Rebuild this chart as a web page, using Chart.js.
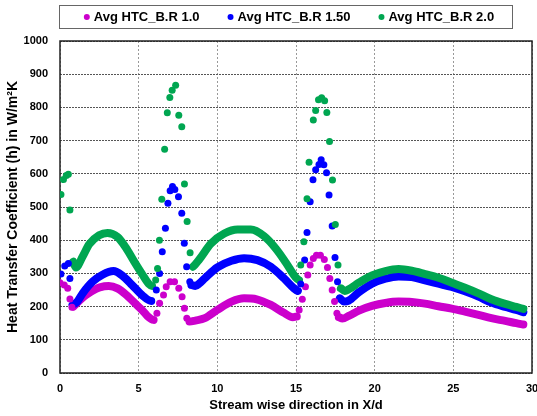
<!DOCTYPE html>
<html>
<head>
<meta charset="utf-8">
<script src="https://cdn.jsdelivr.net/npm/chart.js@4/dist/chart.umd.min.js"></script>
<style>
html,body{margin:0;padding:0;background:#fff;}
#wrap{width:537px;height:416px;}
</style>
</head>
<body>
<div id="wrap"><canvas id="c" width="537" height="416"></canvas></div>
<script>
// ---- data ----
const seriesNames = ['Avg HTC_B.R 1.0', 'Avg HTC_B.R 1.50', 'Avg HTC_B.R 2.0'];
const xTicks = [0, 5, 10, 15, 20, 25, 30];
const yTicks = [0, 100, 200, 300, 400, 500, 600, 700, 800, 900, 1000];
const xTitle = 'Stream wise direction in X/d';
const yTitle = 'Heat Transfer Coefficient (h) in W/m\u00B2K';

// B.R 1.0 (magenta)
const magentaDotX = [0, 0.27, 0.49, 0.63, 0.76, 6.16, 6.33, 6.58, 6.75, 7.0, 7.28, 7.55, 7.76, 7.91, 8.06, 15.2, 15.4, 15.6, 15.75, 15.9, 16.1, 16.3, 16.55, 16.8, 17.0, 17.15, 17.3, 17.45, 17.6];
const magentaDotY = [272, 265, 255, 223, 198, 180, 210, 235, 260, 275, 275, 255, 230, 195, 165, 190, 222, 260, 295, 325, 345, 355, 355, 342, 318, 285, 250, 215, 180];
const magentaBandX = [0.85, 1.27, 1.65, 2.28, 2.53, 3.1, 3.65, 4.22, 4.92, 5.27, 5.55, 5.95, 8.23, 8.6, 9.2, 10.0, 10.9, 11.7, 12.5, 13.4, 14.2, 14.8, 15.05, 17.72, 17.95, 18.35, 19.0, 19.83, 20.68, 21.52, 22.36, 23.2, 24.05, 24.9, 25.74, 26.6, 27.42, 28.3, 29.0, 29.45];
const magentaBandY = [200, 220, 235, 253, 258, 262, 255, 235, 203, 187, 172, 160, 155, 158, 165, 190, 215, 225, 222, 205, 182, 168, 170, 168, 164, 172, 188, 202, 211, 215, 214, 209, 201, 194, 185, 175, 165, 157, 150, 146];

// B.R 1.50 (blue)
const blueDotX = [0.06, 0.3, 0.53, 0.63, 6.12, 6.33, 6.5, 6.7, 6.86, 7.0, 7.15, 7.3, 7.53, 7.74, 7.9, 8.05, 8.25, 15.3, 15.55, 15.7, 15.9, 16.08, 16.25, 16.46, 16.6, 16.77, 16.94, 17.1, 17.3, 17.48, 17.64];
const blueDotY = [298, 322, 330, 285, 250, 300, 365, 436, 511, 549, 562, 553, 531, 481, 391, 320, 275, 268, 340, 423, 516, 582, 612, 628, 642, 627, 603, 536, 443, 348, 275];
const blueBandX = [0.8, 1.1, 1.44, 2.07, 2.7, 3.4, 3.97, 4.6, 5.23, 5.8, 8.35, 8.6, 8.86, 9.2, 10.0, 10.9, 11.7, 12.55, 13.4, 14.24, 14.87, 15.12, 17.78, 18.05, 18.35, 18.99, 19.83, 20.68, 21.52, 22.36, 23.2, 24.05, 24.9, 25.74, 26.6, 27.42, 28.3, 29.0, 29.45];
const blueBandY = [205, 215, 240, 275, 296, 307, 293, 264, 234, 217, 265, 262, 270, 285, 318, 338, 346, 340, 320, 285, 255, 247, 225, 215, 218, 243, 269, 284, 291, 289, 279, 269, 259, 246, 230, 212, 199, 190, 183];

// B.R 2.0 (green)
const greenDotX = [0.06, 0.22, 0.4, 0.53, 0.63, 6.08, 6.2, 6.32, 6.47, 6.65, 6.82, 6.98, 7.13, 7.35, 7.55, 7.74, 7.91, 8.08, 8.27, 15.3, 15.5, 15.7, 15.83, 16.1, 16.25, 16.43, 16.63, 16.82, 16.96, 17.13, 17.32, 17.5, 17.67];
const greenDotY = [538, 583, 595, 599, 491, 280, 315, 400, 523, 674, 784, 830, 852, 867, 776, 742, 569, 456, 362, 325, 395, 525, 635, 762, 791, 823, 829, 820, 785, 697, 581, 447, 325];
const greenBandX = [0.84, 1.01, 1.43, 1.86, 2.49, 3.02, 3.65, 4.18, 4.7, 5.23, 5.65, 5.85, 8.45, 8.85, 9.6, 10.44, 11.29, 12.13, 12.97, 13.71, 14.35, 14.98, 15.19, 17.85, 18.1, 18.35, 18.99, 19.83, 20.68, 21.52, 22.36, 23.2, 24.05, 24.9, 25.74, 26.6, 27.42, 28.3, 29.0, 29.45];
const greenBandY = [335, 318, 350, 388, 415, 422, 410, 378, 337, 297, 268, 262, 320, 342, 390, 420, 432, 432, 412, 375, 333, 288, 280, 255, 247, 252, 272, 294, 307, 313, 308, 298, 287, 272, 257, 240, 222, 208, 199, 193];

// ---- styling ----
const colors = ['#cc00cc', '#0000ff', '#00a651'];
const FONT = '"Liberation Sans", Arial, sans-serif';

const toPts = (xs, ys) => xs.map((x, i) => ({x: x, y: ys[i]}));

function bandDataset(xs, ys, color, order) {
  return {
    type: 'line', data: toPts(xs, ys), order: order,
    borderColor: color, backgroundColor: color, borderWidth: 8,
    borderCapStyle: 'round', borderJoinStyle: 'round',
    pointRadius: 0, pointHoverRadius: 0, fill: false,
    cubicInterpolationMode: 'monotone',
    segment: {
      borderColor: ctx => (ctx.p1.parsed.x - ctx.p0.parsed.x > 1.5 ? 'rgba(0,0,0,0)' : color)
    }
  };
}
function dotDataset(label, xs, ys, color, order) {
  return {
    type: 'scatter', label: label, data: toPts(xs, ys), order: order,
    backgroundColor: color, borderColor: color, borderWidth: 0,
    pointRadius: 3.5, pointHoverRadius: 3.5, showLine: false
  };
}

const frame = {
  id: 'frame',
  beforeDatasetsDraw(chart) {
    const {ctx, chartArea: a} = chart;
    ctx.save();
    ctx.strokeStyle = '#222';
    ctx.lineWidth = 1.5;
    ctx.strokeRect(a.left, a.top, a.right - a.left, a.bottom - a.top);
    ctx.restore();
  }
};

const legendBox = {
  id: 'legendBox',
  afterDraw(chart) {
    const ctx = chart.ctx;
    const a = chart.chartArea;
    ctx.save();
    ctx.strokeStyle = '#666';
    ctx.lineWidth = 1;
    ctx.strokeRect(a.left - 0.5, 5.5, 453, 23);
    ctx.font = 'bold 13px ' + FONT;
    ctx.textBaseline = 'middle';
    ctx.textAlign = 'left';
    const r = 3, g = 4, gap = 28;
    const widths = seriesNames.map(n => 2 * r + g + ctx.measureText(n).width);
    const total = widths.reduce((s, w) => s + w, 0) + gap * (widths.length - 1);
    let x = 289 - total / 2;
    const cy = 17;
    seriesNames.forEach((n, i) => {
      ctx.fillStyle = colors[i];
      ctx.beginPath();
      ctx.arc(x + r, cy, r, 0, Math.PI * 2);
      ctx.fill();
      ctx.fillStyle = '#000';
      ctx.fillText(n, x + 2 * r + g, cy);
      x += widths[i] + gap;
    });
    ctx.restore();
  }
};

new Chart(document.getElementById('c'), {
  data: {
    datasets: [
      bandDataset(magentaBandX, magentaBandY, colors[0], 6),
      bandDataset(blueBandX, blueBandY, colors[1], 5),
      bandDataset(greenBandX, greenBandY, colors[2], 4),
      dotDataset(seriesNames[0], magentaDotX, magentaDotY, colors[0], 3),
      dotDataset(seriesNames[1], blueDotX, blueDotY, colors[1], 2),
      dotDataset(seriesNames[2], greenDotX, greenDotY, colors[2], 1)
    ]
  },
  options: {
    responsive: false,
    devicePixelRatio: 1,
    animation: false,
    layout: {padding: {top: 41, right: 5, bottom: 0, left: 0}},
    plugins: {legend: {display: false}, tooltip: {enabled: false}},
    scales: {
      x: {
        type: 'linear', min: 0, max: 30,
        afterBuildTicks: s => { s.ticks = xTicks.map(v => ({value: v})); },
        afterFit: s => { s.height = 43; s.paddingLeft = 0; s.paddingRight = 0; },
        border: {display: false, dash: [2, 2]},
        grid: {color: '#999', lineWidth: 1, drawTicks: false},
        ticks: {color: '#000', padding: 9, maxRotation: 0, callback: v => String(v), font: {family: FONT, size: 11, weight: 'bold'}},
        title: {display: true, text: xTitle, color: '#000', padding: {top: 0, bottom: 3}, font: {family: FONT, size: 13, weight: 'bold'}}
      },
      y: {
        type: 'linear', min: 0, max: 1000,
        afterBuildTicks: s => { s.ticks = yTicks.map(v => ({value: v})); },
        afterFit: s => { s.width = 60; s.paddingTop = 0; s.paddingBottom = 0; },
        border: {display: false, dash: [2, 1]},
        grid: {color: '#555', lineWidth: 1, drawTicks: false},
        ticks: {color: '#000', padding: 12, callback: v => String(v), font: {family: FONT, size: 11, weight: 'bold'}},
        title: {display: true, text: yTitle, color: '#000', padding: {top: 5, bottom: 0}, font: {family: FONT, size: 14, weight: 'bold'}}
      }
    }
  },
  plugins: [frame, legendBox]
});
</script>
</body>
</html>
